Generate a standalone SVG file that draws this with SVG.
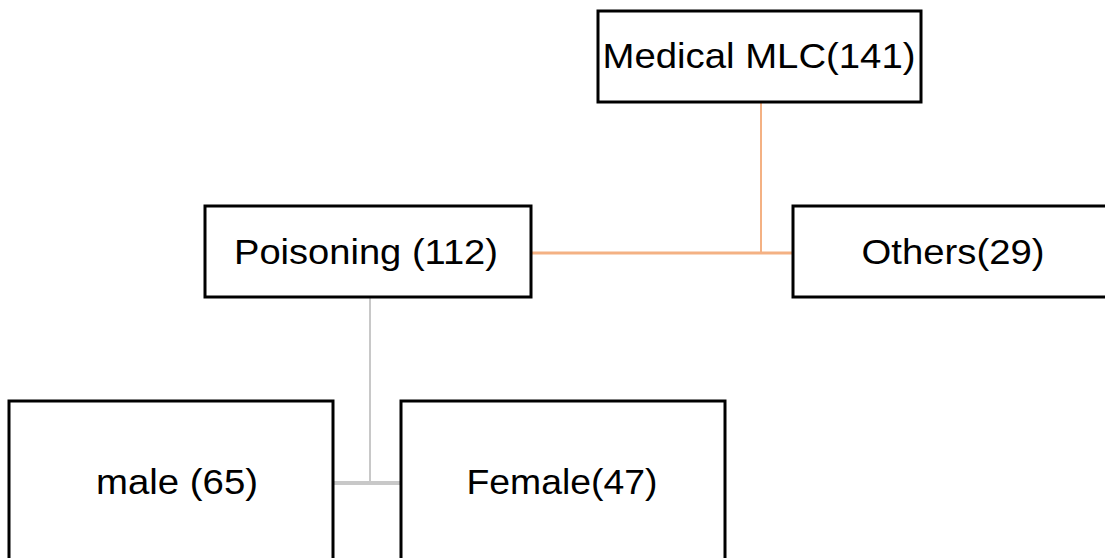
<svg xmlns="http://www.w3.org/2000/svg" width="1105" height="558" viewBox="0 0 1105 558">
<style>
.box{fill:#fff;stroke:#000;stroke-width:3}
.lbl{font-family:"Liberation Sans",Arial,sans-serif;font-size:35px;fill:#000;text-anchor:middle}
.or{stroke:#f4b183;fill:none}
.gr{stroke:#c8c8c8;fill:none}
</style>
<rect width="1105" height="558" fill="#fff"/>
<g id="connectors">
<line class="or" x1="761" y1="102" x2="761" y2="253" stroke-width="2"/>
<line class="or" x1="531" y1="253" x2="793" y2="253" stroke-width="3"/>
<line class="gr" x1="370" y1="297" x2="370" y2="483" stroke-width="2"/>
<line class="gr" x1="333" y1="483" x2="401" y2="483" stroke-width="4"/>
</g>
<g id="medical">
<rect class="box" x="598" y="11" width="323" height="91"/>
<text class="lbl" x="759" y="68" textLength="313" lengthAdjust="spacingAndGlyphs">Medical MLC(141)</text>
</g>
<g id="poisoning">
<rect class="box" x="205" y="206" width="326" height="91"/>
<text class="lbl" x="366" y="264" textLength="264" lengthAdjust="spacingAndGlyphs">Poisoning (112)</text>
</g>
<g id="others">
<rect class="box" x="793" y="206" width="325" height="91"/>
<text class="lbl" x="953" y="264" textLength="183" lengthAdjust="spacingAndGlyphs">Others(29)</text>
</g>
<g id="male">
<rect class="box" x="9" y="401" width="324" height="170"/>
<text class="lbl" x="177" y="494" textLength="162" lengthAdjust="spacingAndGlyphs">male (65)</text>
</g>
<g id="female">
<rect class="box" x="401" y="401" width="324" height="170"/>
<text class="lbl" x="562" y="494" textLength="191" lengthAdjust="spacingAndGlyphs">Female(47)</text>
</g>
</svg>
